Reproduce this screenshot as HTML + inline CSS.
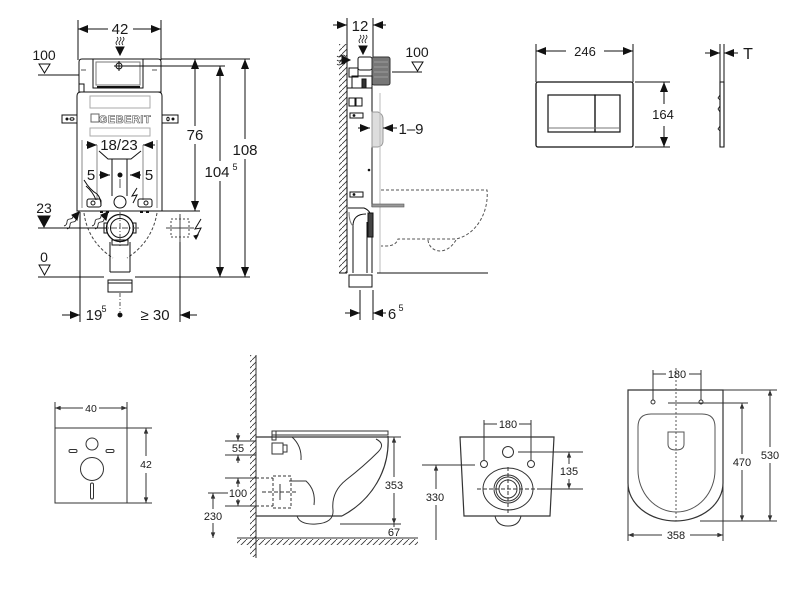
<!DOCTYPE html>
<html><head><meta charset="utf-8"><style>
html,body{margin:0;padding:0;background:#fff;}
svg{display:block;}
text{font-family:"Liberation Sans",Arial,sans-serif;fill:#1a1a1a;}
</style></head><body>
<svg width="800" height="600" viewBox="0 0 800 600" xmlns="http://www.w3.org/2000/svg">
<defs>
<marker id="A" viewBox="0 0 10 8" refX="10" refY="4" markerWidth="10" markerHeight="8" markerUnits="userSpaceOnUse" orient="auto-start-reverse"><path d="M0 0L10 4L0 8z" fill="#111"/></marker>
<marker id="S" viewBox="0 0 10 8" refX="10" refY="4" markerWidth="6" markerHeight="4.5" markerUnits="userSpaceOnUse" orient="auto-start-reverse"><path d="M0 0L10 4L0 8z" fill="#333"/></marker>
<pattern id="H" width="6" height="6" patternUnits="userSpaceOnUse"><path d="M-1 7L7 -1" stroke="#333" stroke-width="0.8"/></pattern>
</defs>

<!-- ================= TOP LEFT: frame front ================= -->
<g stroke="#111" stroke-width="1" fill="none">
  <!-- 42 dim -->
  <line x1="78" y1="20" x2="78" y2="60"/>
  <line x1="161" y1="20" x2="161" y2="60"/>
  <line x1="78" y1="29" x2="108" y2="29" marker-start="url(#A)"/>
  <line x1="133" y1="29" x2="161" y2="29" marker-end="url(#A)"/>
  <!-- wavy + arrow -->
  <path d="M117 37q2 2 0 4q-2 2 0 4M120 37q2 2 0 4q-2 2 0 4M123 37q2 2 0 4q-2 2 0 4" stroke-width="0.8"/>
  <path d="M116 47H124L120 55Z" fill="#111"/>
  <!-- top head -->
  <path d="M79 62Q79 59 82 59H158Q161 59 161 62V92H79Z"/>
  <rect x="93" y="59" width="50" height="29"/>
  <rect x="96" y="62" width="44" height="23" stroke="#777"/>
  <line x1="97" y1="87" x2="140" y2="87" stroke-width="2"/>
  <circle cx="119" cy="66" r="3"/>
  <line x1="114" y1="66" x2="124" y2="66"/>
  <line x1="119" y1="61" x2="119" y2="71"/>
  <path d="M81 70h5M152 70h5" stroke="#555"/>
  <rect x="79" y="84" width="5" height="8"/>
  <!-- body -->
  <path d="M77 96Q77 92 81 92H158Q162 92 162 96V211H77Z"/>
  <rect x="90" y="96" width="60" height="12" stroke="#aaa"/>
  <rect x="90" y="128" width="60" height="8" stroke="#aaa"/>
  <rect x="91" y="114" width="8" height="8" stroke="#666"/>
  <line x1="82" y1="140" x2="82" y2="208" stroke="#888"/>
  <line x1="157" y1="140" x2="157" y2="208" stroke="#888"/>
  <!-- tabs -->
  <rect x="62" y="115" width="15" height="8"/>
  <rect x="162" y="115" width="16" height="8"/>
  <circle cx="67" cy="119" r="1" fill="#111"/><ellipse cx="72" cy="119" rx="2" ry="1.2"/>
  <circle cx="173" cy="119" r="1" fill="#111"/><ellipse cx="168" cy="119" rx="1.2" ry="1.8"/>
  <!-- 18/23 arrows -->
  <line x1="86" y1="145" x2="97" y2="145" marker-end="url(#A)"/>
  <line x1="155" y1="145" x2="143" y2="145" marker-end="url(#A)"/>
  <line x1="97" y1="145" x2="97" y2="200" stroke="#888"/>
  <line x1="143" y1="145" x2="143" y2="200" stroke="#888"/>
  <path d="M99 151L108 159H131L141 151"/>
  <line x1="112" y1="159" x2="112" y2="196"/>
  <line x1="127" y1="159" x2="127" y2="196"/>
  <!-- 5 arrows -->
  <line x1="99" y1="175" x2="110" y2="175" marker-end="url(#A)"/>
  <line x1="141" y1="175" x2="130" y2="175" marker-end="url(#A)"/>
  <circle cx="120" cy="175" r="2" fill="#111"/>
  <line x1="120" y1="179" x2="120" y2="188" stroke="#555"/>
  <!-- lower body details -->
  <path d="M84 180Q90 190 97 194Q101 198 101 206"/>
  <path d="M86 186Q93 192 96 200"/>
  <rect x="87" y="199" width="14" height="8" rx="2"/>
  <rect x="138" y="199" width="14" height="8" rx="2"/>
  <circle cx="93" cy="203" r="2"/><circle cx="146" cy="203" r="2"/>
  <circle cx="120" cy="202" r="6"/>
  <path d="M137 188L132 196L137 195L133 203"/>
  <path d="M100 212h3M106 212h3M140 212h3M146 212h3" stroke-width="2"/>
  <!-- dashed bowl -->
  <path d="M84 213Q88 242 113 258M157 213Q152 242 127 258" stroke-dasharray="3 2" stroke="#444"/>
  <!-- fitting -->
  <circle cx="120" cy="228" r="13.5" stroke-width="1.3"/>
  <circle cx="120" cy="228" r="9.5"/>
  <rect x="104" y="223" width="3" height="10"/>
  <rect x="133" y="223" width="3" height="10"/>
  <line x1="100" y1="228" x2="140" y2="228" stroke-dasharray="6 2 1 2" stroke="#555"/>
  <line x1="120" y1="212" x2="120" y2="246" stroke-dasharray="6 2 1 2" stroke="#555"/>
  <rect x="112" y="240" width="16" height="5"/>
  <line x1="110" y1="242" x2="110" y2="272"/>
  <line x1="130" y1="242" x2="130" y2="272"/>
  <line x1="110" y1="272" x2="130" y2="272"/>
  <rect x="108" y="280" width="24" height="12"/>
  <line x1="108" y1="283" x2="132" y2="283"/>
  <!-- wavy arrows -->
  <path d="M64 226q3-1 3-4t3-3q3 0 3-3M67 229q3-1 3-4t3-3q3 0 3-3" stroke-width="0.8"/>
  <path d="M79 212L72 215L77 220Z" fill="#111"/>
  <path d="M92 226q3-1 3-4t3-3q3 0 3-3M95 229q3-1 3-4t3-3q3 0 3-3" stroke-width="0.8"/>
  <path d="M108 212L101 215L106 220Z" fill="#111"/>
  <!-- level lines -->
  <line x1="38" y1="75" x2="79" y2="75"/>
  <line x1="38" y1="228" x2="106" y2="228"/>
  <line x1="38" y1="277" x2="104" y2="277"/>
  <line x1="135" y1="277" x2="250" y2="277"/>
  <line x1="161" y1="59" x2="250" y2="59"/>
  <line x1="123" y1="66" x2="225" y2="66"/>
  <line x1="162" y1="211" x2="200" y2="211"/>
  <path d="M39 64H50L44.5 73Z"/>
  <path d="M38 216H50L44 227Z" fill="#111"/>
  <path d="M39 265H50L44.5 275Z"/>
  <!-- electrical box -->
  <rect x="171" y="219" width="18" height="18" stroke-dasharray="2 2" stroke="#444"/>
  <line x1="180" y1="214" x2="180" y2="242" stroke="#444"/>
  <line x1="166" y1="228" x2="194" y2="228" stroke="#444"/>
  <path d="M201 219L195 229L201 228L196 238"/>
  <path d="M194 236L196 239L198 235Z" fill="#111"/>
  <line x1="180" y1="242" x2="180" y2="322"/>
  <line x1="80" y1="212" x2="80" y2="322"/>
  <line x1="120" y1="293" x2="120" y2="312" stroke-dasharray="4 2 1 2" stroke="#555"/>
  <!-- right dims -->
  <line x1="195" y1="59" x2="195" y2="126" marker-start="url(#A)"/>
  <line x1="195" y1="144" x2="195" y2="211" marker-end="url(#A)"/>
  <line x1="220" y1="66" x2="220" y2="161" marker-start="url(#A)"/>
  <line x1="220" y1="181" x2="220" y2="277" marker-end="url(#A)"/>
  <line x1="245" y1="59" x2="245" y2="139" marker-start="url(#A)"/>
  <line x1="245" y1="159" x2="245" y2="277" marker-end="url(#A)"/>
  <!-- bottom dim -->
  <line x1="62" y1="315" x2="80" y2="315" marker-end="url(#A)"/>
  <circle cx="120" cy="315" r="2" fill="#111"/>
  <line x1="197" y1="315" x2="180" y2="315" marker-end="url(#A)"/>
</g>
<g font-size="15">
  <text x="120" y="34" text-anchor="middle">42</text>
  <text x="44" y="60" text-anchor="middle" font-size="14">100</text>
  <text x="44" y="213" text-anchor="middle" font-size="14">23</text>
  <text x="44" y="262" text-anchor="middle" font-size="14">0</text>
  <text x="119" y="150" text-anchor="middle">18/23</text>
  <text x="91" y="180" text-anchor="middle">5</text>
  <text x="149" y="180" text-anchor="middle">5</text>
  <text x="195" y="140" text-anchor="middle">76</text>
  <text x="217" y="177" text-anchor="middle">104</text>
  <text x="235" y="170" text-anchor="middle" font-size="9">5</text>
  <text x="245" y="155" text-anchor="middle">108</text>
  <text x="94" y="320" text-anchor="middle">19</text>
  <text x="104" y="312" text-anchor="middle" font-size="9">5</text>
  <text x="155" y="320" text-anchor="middle">≥ 30</text>
  <text x="125" y="123" text-anchor="middle" font-size="11" font-weight="bold" letter-spacing="0.5" style="fill:#fff;stroke:#555;stroke-width:0.6">GEBERIT</text>
</g>

<!-- ================= TOP MIDDLE: side view ================= -->
<g stroke="#111" stroke-width="1" fill="none">
  <line x1="347" y1="18" x2="347" y2="45"/>
  <line x1="373" y1="18" x2="373" y2="57"/>
  <line x1="333" y1="25" x2="347" y2="25" marker-end="url(#A)"/>
  <line x1="386" y1="25" x2="373" y2="25" marker-end="url(#A)"/>
  <!-- wall -->
  <rect x="339" y="44" width="8" height="229" fill="url(#H)" stroke="none"/>
  <line x1="347" y1="43" x2="347" y2="273"/>
  <!-- wavy arrows -->
  <path d="M337 56q2 2 4 0t4 0M337 60q2 2 4 0t4 0M337 64q2 2 4 0t4 0" stroke-width="0.8"/>
  <path d="M342 56L350 60L342 64Z" fill="#111"/>
  <path d="M360 35q2 2 0 4q-2 2 0 4M363 35q2 2 0 4q-2 2 0 4M366 35q2 2 0 4q-2 2 0 4" stroke-width="0.8"/>
  <path d="M359 46H367L363 54Z" fill="#111"/>
  <!-- top parts -->
  <rect x="358" y="57" width="14" height="13" rx="2"/>
  <rect x="372" y="57" width="18" height="28" rx="2" fill="#777" stroke="#333"/>
  <path d="M374 62H388M374 67H388M374 72H388M374 77H388" stroke="#aaa" stroke-width="0.7"/>
  <rect x="349" y="68" width="9" height="9"/>
  <rect x="352" y="76" width="20" height="12"/>
  <rect x="362" y="79" width="4" height="9" fill="#333"/>
  <!-- body -->
  <line x1="347" y1="88" x2="372" y2="88"/>
  <line x1="372" y1="85" x2="372" y2="207"/>
  <rect x="349" y="98" width="6" height="8"/>
  <rect x="356" y="98" width="6" height="8"/>
  <rect x="350" y="113" width="13" height="5"/>
  <rect x="350" y="192" width="13" height="5"/>
  <circle cx="354" cy="115.5" r="0.9" fill="#111"/>
  <circle cx="354" cy="194.5" r="0.9" fill="#111"/>
  <circle cx="369" cy="170" r="0.8" fill="#111"/>
  <path d="M372 112H378Q383 114 383 119V141Q383 146 378 147H372Z" fill="#ddd" stroke="#999"/>
  <line x1="358" y1="128" x2="370" y2="128" marker-end="url(#A)"/>
  <line x1="397" y1="128" x2="383" y2="128" marker-end="url(#A)"/>
  <line x1="380" y1="93" x2="380" y2="273" stroke="#bbb"/>
  <!-- bolt -->
  <rect x="372" y="204" width="32" height="3" fill="#999" stroke="#555" stroke-width="0.6"/>
  <!-- pipe elbow -->
  <path d="M348 208H364Q372 211 372 222V273"/>
  <path d="M353 273V226Q353 214 366 214"/>
  <line x1="367" y1="222" x2="367" y2="273"/>
  <path d="M349 212Q349 222 353 226" stroke="#777"/>
  <rect x="368" y="213" width="5" height="24" fill="#444"/>
  <rect x="349" y="275" width="23" height="12"/>
  <line x1="339" y1="273" x2="347" y2="273"/>
  <line x1="377" y1="273" x2="488" y2="273"/>
  <!-- dashed bowl -->
  <path d="M381 190H487C489 210 478 234 456 239H398Q396 246 386 246H381" stroke-dasharray="3 2" stroke="#555"/>
  <path d="M428 240C429 252 446 257 456 240" stroke-dasharray="3 2" stroke="#555"/>
  <!-- 100 -->
  <line x1="392" y1="72" x2="422" y2="72"/>
  <path d="M412 62H423L417.5 71Z"/>
  <!-- 6^5 -->
  <line x1="360" y1="290" x2="360" y2="320"/>
  <line x1="373" y1="290" x2="373" y2="320"/>
  <line x1="345" y1="313" x2="360" y2="313" marker-end="url(#A)"/>
  <line x1="386" y1="313" x2="373" y2="313" marker-end="url(#A)"/>
</g>
<g font-size="15">
  <text x="360" y="31" text-anchor="middle">12</text>
  <text x="417" y="57" text-anchor="middle" font-size="14">100</text>
  <text x="411" y="134" text-anchor="middle">1–9</text>
  <text x="392" y="319" text-anchor="middle">6</text>
  <text x="401" y="311" text-anchor="middle" font-size="9">5</text>
</g>

<!-- ================= TOP RIGHT: flush plate ================= -->
<g stroke="#111" stroke-width="1" fill="none">
  <line x1="536" y1="44" x2="536" y2="82"/>
  <line x1="633" y1="44" x2="633" y2="82"/>
  <line x1="536" y1="51" x2="566" y2="51" marker-start="url(#A)"/>
  <line x1="604" y1="51" x2="633" y2="51" marker-end="url(#A)"/>
  <rect x="536" y="82" width="97" height="65" rx="2" stroke-width="1.3"/>
  <rect x="548" y="95" width="47" height="37" stroke-width="1.2"/>
  <rect x="595" y="95" width="25" height="37" stroke-width="1.2"/>
  <line x1="549" y1="128" x2="619" y2="128" stroke="#777"/>
  <line x1="635" y1="82" x2="670" y2="82"/>
  <line x1="635" y1="147" x2="670" y2="147"/>
  <line x1="664" y1="82" x2="664" y2="104" marker-start="url(#A)"/>
  <line x1="664" y1="126" x2="664" y2="147" marker-end="url(#A)"/>
  <path d="M720 82H724V147H720Z" stroke-width="1.1"/>
  <path d="M720 95L718 98L720 100M720 106L718 109L720 112M720 126L718 129L720 131" stroke-width="0.8"/>
  <line x1="720" y1="44" x2="720" y2="82"/>
  <line x1="724" y1="44" x2="724" y2="82"/>
  <line x1="705" y1="53" x2="720" y2="53" marker-end="url(#A)"/>
  <line x1="738" y1="53" x2="724" y2="53" marker-end="url(#A)"/>
</g>
<g font-size="13">
  <text x="585" y="56" text-anchor="middle">246</text>
  <text x="663" y="119" text-anchor="middle">164</text>
  <text x="748" y="59" text-anchor="middle" font-size="16">T</text>
</g>

<!-- ================= BOTTOM LEFT: panel ================= -->
<g stroke="#333" stroke-width="1" fill="none">
  <line x1="55" y1="402" x2="55" y2="428"/>
  <line x1="127" y1="402" x2="127" y2="428"/>
  <line x1="55" y1="408" x2="83" y2="408" marker-start="url(#S)"/>
  <line x1="99" y1="408" x2="127" y2="408" marker-end="url(#S)"/>
  <rect x="55" y="428" width="72" height="75"/>
  <circle cx="92" cy="444" r="6"/>
  <rect x="69" y="449.5" width="8" height="3" rx="1.5"/>
  <rect x="106" y="449.5" width="8" height="3" rx="1.5"/>
  <circle cx="92" cy="469" r="11.5"/>
  <rect x="90.5" y="483" width="3" height="16" rx="1.5"/>
  <line x1="127" y1="428" x2="152" y2="428"/>
  <line x1="127" y1="503" x2="152" y2="503"/>
  <line x1="146" y1="428" x2="146" y2="456" marker-start="url(#S)"/>
  <line x1="146" y1="473" x2="146" y2="503" marker-end="url(#S)"/>
</g>
<g font-size="10.5">
  <text x="91" y="412" text-anchor="middle">40</text>
  <text x="146" y="468" text-anchor="middle">42</text>
</g>

<!-- ================= BOTTOM MIDDLE-LEFT: side view toilet ================= -->
<g stroke="#333" stroke-width="1" fill="none">
  <rect x="250" y="355" width="6" height="202" fill="url(#H)" stroke="none"/>
  <line x1="256" y1="355" x2="256" y2="558"/>
  <rect x="237" y="539" width="181" height="6" fill="url(#H)" stroke="none"/>
  <line x1="237" y1="538" x2="418" y2="538"/>
  <rect x="272" y="431" width="116" height="4"/>
  <rect x="272" y="431" width="4" height="9"/>
  <line x1="256" y1="437" x2="388" y2="437" stroke-width="1.2"/>
  <path d="M388 436C390 470 372 500 342 516" stroke-width="1.2"/>
  <line x1="256" y1="516" x2="342" y2="516" stroke-width="1.2"/>
  <rect x="272" y="443" width="11" height="11"/>
  <rect x="283" y="445" width="4" height="7"/>
  <path d="M292 437Q302 446 301 460"/>
  <path d="M289 481H306Q316 490 314 505"/>
  <path d="M376 439Q386 444 378 452Q364 466 346 480Q331 492 333 510Q334 523 316 524Q300 525 297 516"/>
  <rect x="273" y="476" width="18" height="32" stroke-dasharray="3 2"/>
  <line x1="256" y1="478" x2="273" y2="478" stroke-dasharray="3 2"/>
  <line x1="256" y1="506" x2="273" y2="506" stroke-dasharray="3 2"/>
  <line x1="262" y1="492" x2="297" y2="492" stroke-dasharray="4 2"/>
  <line x1="280" y1="484" x2="280" y2="500"/>
  <!-- 55 -->
  <line x1="225" y1="441" x2="256" y2="441"/>
  <line x1="225" y1="455" x2="256" y2="455"/>
  <line x1="238" y1="433" x2="238" y2="441" marker-end="url(#S)"/>
  <line x1="238" y1="463" x2="238" y2="455" marker-end="url(#S)"/>
  <!-- 100 -->
  <line x1="225" y1="478" x2="256" y2="478"/>
  <line x1="225" y1="506" x2="256" y2="506"/>
  <line x1="238" y1="478" x2="238" y2="487" marker-start="url(#S)"/>
  <line x1="238" y1="499" x2="238" y2="506" marker-end="url(#S)"/>
  <!-- 230 -->
  <line x1="208" y1="493" x2="228" y2="493"/>
  <line x1="213" y1="493" x2="213" y2="509" marker-start="url(#S)"/>
  <line x1="213" y1="523" x2="213" y2="538" marker-end="url(#S)"/>
  <!-- 353 / 67 -->
  <line x1="388" y1="437" x2="401" y2="437"/>
  <line x1="340" y1="524" x2="401" y2="524"/>
  <line x1="394" y1="437" x2="394" y2="477" marker-start="url(#S)"/>
  <line x1="394" y1="493" x2="394" y2="524" marker-end="url(#S)"/>
  <line x1="394" y1="524" x2="394" y2="527"/>
</g>
<g font-size="11">
  <text x="238" y="452" text-anchor="middle">55</text>
  <text x="238" y="497" text-anchor="middle">100</text>
  <text x="213" y="520" text-anchor="middle">230</text>
  <text x="394" y="489" text-anchor="middle">353</text>
  <text x="394" y="536" text-anchor="middle">67</text>
</g>

<!-- ================= BOTTOM MIDDLE-RIGHT: back view ================= -->
<g stroke="#333" stroke-width="1" fill="none">
  <path d="M460 437H554L550 516H464Z" stroke-width="1.2"/>
  <path d="M495 516Q497 526 508 526Q519 526 521 516"/>
  <line x1="484" y1="420" x2="484" y2="460"/>
  <line x1="531" y1="420" x2="531" y2="460"/>
  <line x1="484" y1="424" x2="497" y2="424"/>
  <line x1="519" y1="424" x2="531" y2="424"/>
  <circle cx="508" cy="452" r="5.5"/>
  <circle cx="484" cy="464" r="3.5"/>
  <circle cx="531" cy="464" r="3.5"/>
  <ellipse cx="508" cy="489" rx="25" ry="21"/>
  <circle cx="508" cy="489" r="14"/>
  <circle cx="508" cy="489" r="12"/>
  <circle cx="508" cy="489" r="9"/>
  <line x1="477" y1="489" x2="541" y2="489" stroke-dasharray="4 2"/>
  <line x1="508" y1="467" x2="508" y2="514" stroke-dasharray="4 2"/>
  <!-- 135 -->
  <line x1="518" y1="452" x2="583" y2="452"/>
  <line x1="540" y1="489" x2="583" y2="489"/>
  <line x1="569" y1="452" x2="569" y2="464" marker-start="url(#S)"/>
  <line x1="569" y1="479" x2="569" y2="489" marker-end="url(#S)"/>
  <!-- 330 -->
  <line x1="422" y1="465" x2="475" y2="465"/>
  <line x1="436" y1="465" x2="436" y2="489" marker-start="url(#S)"/>
  <line x1="436" y1="505" x2="436" y2="540"/>
</g>
<g font-size="11">
  <text x="508" y="428" text-anchor="middle">180</text>
  <text x="569" y="475" text-anchor="middle">135</text>
  <text x="435" y="501" text-anchor="middle">330</text>
</g>

<!-- ================= BOTTOM RIGHT: top view ================= -->
<g stroke="#333" stroke-width="1" fill="none">
  <path d="M628 390H723V483A47.5 38 0 0 1 628 483Z" stroke-width="1.2"/>
  <path d="M651 414H702Q715 414 715 427V470A38.5 42 0 0 1 638 470V427Q638 414 651 414Z" stroke="#555"/>
  <path d="M668 432H684V444Q684 450 676 450Q668 450 668 444Z" stroke="#555"/>
  <line x1="676" y1="368" x2="676" y2="521" stroke-dasharray="2 2" stroke="#555"/>
  <circle cx="653" cy="402" r="2"/>
  <circle cx="701" cy="402" r="2"/>
  <line x1="653" y1="370" x2="653" y2="400"/>
  <line x1="701" y1="370" x2="701" y2="400"/>
  <line x1="653" y1="374" x2="666" y2="374"/>
  <line x1="689" y1="374" x2="701" y2="374"/>
  <!-- 470 / 530 -->
  <line x1="668" y1="403" x2="748" y2="403"/>
  <line x1="700" y1="521" x2="777" y2="521"/>
  <line x1="723" y1="390" x2="777" y2="390"/>
  <line x1="742" y1="403" x2="742" y2="454" marker-start="url(#S)"/>
  <line x1="742" y1="470" x2="742" y2="521" marker-end="url(#S)"/>
  <line x1="770" y1="390" x2="770" y2="447" marker-start="url(#S)"/>
  <line x1="770" y1="463" x2="770" y2="521" marker-end="url(#S)"/>
  <!-- 358 -->
  <line x1="628" y1="480" x2="628" y2="541"/>
  <line x1="723" y1="480" x2="723" y2="541"/>
  <line x1="628" y1="535" x2="662" y2="535" marker-start="url(#S)"/>
  <line x1="690" y1="535" x2="723" y2="535" marker-end="url(#S)"/>
</g>
<g font-size="11">
  <text x="677" y="378" text-anchor="middle">180</text>
  <text x="742" y="466" text-anchor="middle">470</text>
  <text x="770" y="459" text-anchor="middle">530</text>
  <text x="676" y="539" text-anchor="middle">358</text>
</g>
</svg>
</body></html>
